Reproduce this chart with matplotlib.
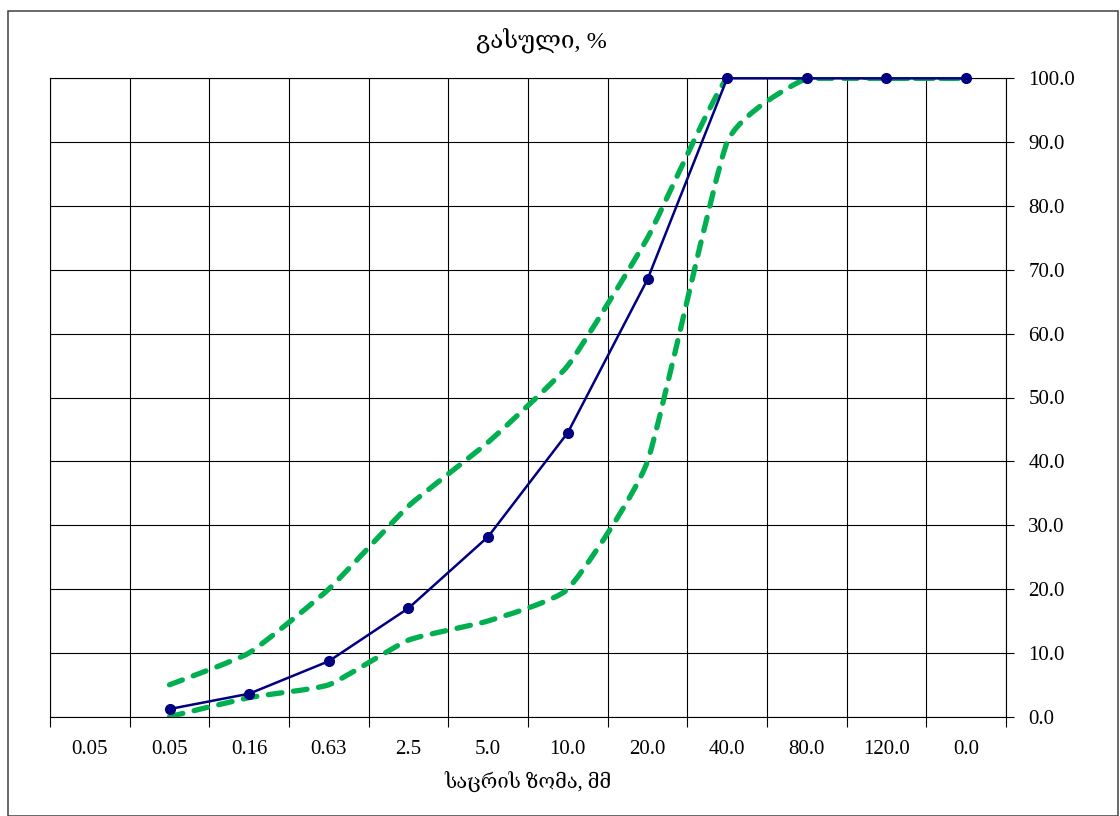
import matplotlib
matplotlib.use("Agg")
import matplotlib.pyplot as plt
from matplotlib.path import Path
from matplotlib.patches import PathPatch, Rectangle
import numpy as np

# Sieve sizes (category labels) and passing percentages
sizes = ["0.05", "0.05", "0.16", "0.63", "2.5", "5.0", "10.0", "20.0",
         "40.0", "80.0", "120.0", "0.0"]
passing = [None, 1.2, 3.6, 8.7, 17.0, 28.2, 44.5, 68.5, 100.0, 100.0, 100.0, 100.0]
upper_limit = [None, 5.0, 10.0, 20.0, 33.0, 43.0, 55.0, 75.0, 100.0, 100.0, 100.0, 100.0]
lower_limit = [None, 0.0, 3.0, 5.0, 12.0, 15.0, 20.0, 40.0, 90.0, 100.0, 100.0, 100.0]
y_ticks = [0, 10, 20, 30, 40, 50, 60, 70, 80, 90, 100]

title_text = "გასული, %"
xlabel_text = "საცრის ზომა, მმ"

FONT = ["Liberation Serif", "DejaVu Serif", "DejaVu Sans"]
plt.rcParams["font.family"] = FONT

W, H = 1120, 816
fig = plt.figure(figsize=(W / 100, H / 100), dpi=100)

# outer chart border
fig.patches.append(Rectangle((8 / W, 0), (1118 - 8) / W, 1 - 11 / H,
                             transform=fig.transFigure, fill=False,
                             edgecolor="#404040", linewidth=1.1))

left, right, top, bottom = 50, 1006, 78.3, 716.7
ax = fig.add_axes([left / W, 1 - bottom / H, (right - left) / W, (bottom - top) / H])

n = len(sizes)
ax.set_xlim(-0.5, n - 0.5)
ax.set_ylim(0, 100)

# category labels centred, tick marks on category boundaries
ax.set_xticks(np.arange(n))
ax.set_xticklabels(sizes, fontsize=15)
ax.tick_params(axis="x", which="major", length=0, pad=17)
ax.set_xticks(np.arange(n + 1) - 0.5, minor=True)
ax.tick_params(axis="x", which="minor", length=7, width=0.8, direction="out")
ax.grid(True, axis="x", which="minor", color="black", linewidth=0.8)

ax.yaxis.tick_right()
ax.set_yticks(y_ticks)
ax.set_yticklabels([f"{v:.1f}" for v in y_ticks], fontsize=15)
ax.tick_params(axis="y", length=6, width=0.8, pad=10, direction="out")
ax.grid(True, axis="y", which="major", color="black", linewidth=0.8)
ax.set_axisbelow(True)

for s in ax.spines.values():
    s.set_linewidth(0.8)
    s.set_color("black")


def smooth_path(xs, ys, k=0.075):
    """Cubic Bezier path through the points, lightly rounded at the vertices."""
    pts = np.column_stack([xs, ys]).astype(float)
    verts = [pts[0]]
    codes = [Path.MOVETO]
    m = len(pts)
    for i in range(m - 1):
        p0 = pts[i - 1] if i > 0 else pts[i]
        p1 = pts[i]
        p2 = pts[i + 1]
        p3 = pts[i + 2] if i + 2 < m else pts[i + 1]
        c1 = p1 + (p2 - p0) * k
        c2 = p2 - (p3 - p1) * k
        verts += [c1, c2, p2]
        codes += [Path.CURVE4] * 3
    return Path(verts, codes)


green = "#00B050"
for series in (upper_limit, lower_limit):
    xs = [i for i, v in enumerate(series) if v is not None]
    ys = [v for v in series if v is not None]
    patch = PathPatch(smooth_path(xs, ys), fill=False, edgecolor=green,
                      linewidth=3.8, linestyle=(0, (2.6, 2.2)), zorder=3)
    patch.set_capstyle("round")
    ax.add_patch(patch)

bx = [i for i, v in enumerate(passing) if v is not None]
by = [v for v in passing if v is not None]
ax.plot(bx, by, color="#000080", linewidth=1.8, marker="o", markersize=7,
        markerfacecolor="#000080", markeredgecolor="#000080", zorder=4,
        clip_on=False)

fig.text(541 / W, 1 - 40 / H, title_text, ha="center", va="center", fontsize=17.5)
fig.text(528 / W, 1 - 783 / H, xlabel_text, ha="center", va="center", fontsize=14.5)

fig.savefig("out.png", dpi=100)
